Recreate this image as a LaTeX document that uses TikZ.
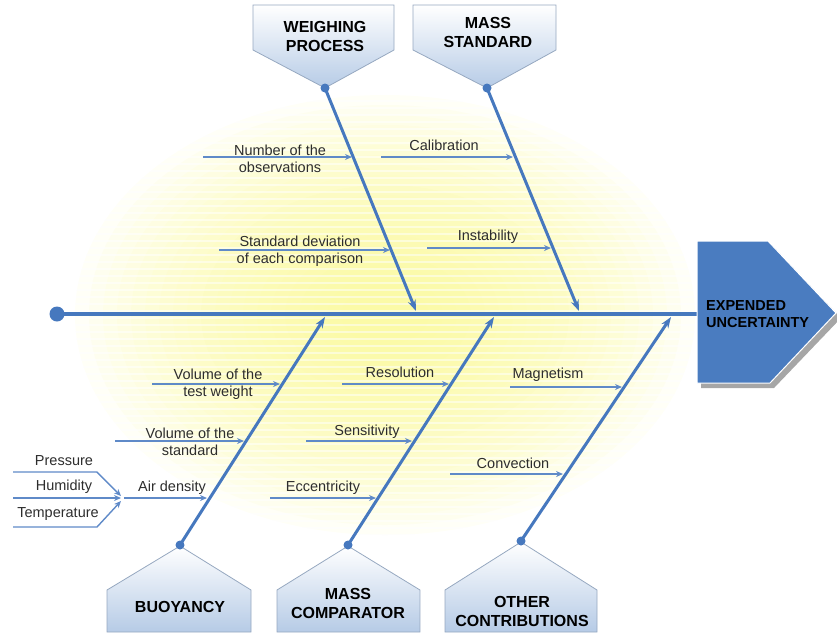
\documentclass[tikz,border=0pt]{standalone}
\usepackage{fontspec}
\setmainfont{Liberation Sans}
\usetikzlibrary{arrows.meta,calc}
\definecolor{bone}{RGB}{70,120,190}
\definecolor{subc}{RGB}{95,138,200}
\definecolor{boxb}{RGB}{182,203,230}
\definecolor{boxline}{RGB}{150,168,192}
\definecolor{headc}{RGB}{74,124,192}
\definecolor{glow}{RGB}{250,248,140}
\definecolor{txt}{RGB}{45,45,45}
\tikzset{
 bonearrow/.style={draw=bone, line width=3pt, -{Stealth[length=11pt,width=8pt]}},
 subarrow/.style={draw=subc, line width=1.4pt, -{Stealth[length=7pt,width=6pt]}},
 subline/.style={draw=subc, line width=1.4pt},
 lbl/.style={font=\fontsize{14.5}{17}\selectfont, text=txt, align=center, inner sep=0pt},
 boxlbl/.style={font=\fontsize{16}{19}\selectfont\bfseries, text=black, align=center, inner sep=0pt},
 catbox/.style={draw=boxline, line width=0.8pt, top color=white, bottom color=boxb},
}
\begin{document}
\begin{tikzpicture}[x=1pt,y=-1pt]
\useasboundingbox (0,0) rectangle (837,641);
% background glow
\foreach \i in {0,...,19}
  \fill[glow, opacity=0.07] (385,315) ellipse ({310-14*\i} and {220-10*\i});
\foreach \yy in {80,87,...,560} \draw[white, line width=2.6pt, opacity=0.5] (40,\yy) -- (740,\yy);

% spine
\coordinate (tail) at (57,314);
\coordinate (headL) at (697,314);
\draw[bone, line width=3.5pt] (tail) -- (headL);
\fill[bone] (tail) circle (7.5);

% head
\fill[black!35] (701,246) -- (772,246) -- (841,318) -- (774,388) -- (701,388) -- cycle;
\draw[white, line width=1pt, fill=headc] (697,241) -- (768,241) -- (836,313) -- (770,383) -- (697,383) -- cycle;
\node[font=\fontsize{14.5}{17}\selectfont\bfseries, align=left, anchor=west, inner sep=0pt] (head) at (706,314) {EXPENDED\\UNCERTAINTY};

% top category boxes
\draw[catbox] (253,5) -- (394,5) -- (394,50) -- (325,88) -- (253,50) -- cycle;
\node[boxlbl] (wp) at (325,36) {WEIGHING\\PROCESS};
\draw[catbox] (413,5) -- (556,5) -- (556,50) -- (487,88) -- (413,50) -- cycle;
\node[boxlbl] (ms) at (488,32) {MASS\\STANDARD};

% bottom category boxes
\draw[catbox] (180,546) -- (251,590) -- (251,632) -- (107,632) -- (107,590) -- cycle;
\node[boxlbl] (bu) at (180,607) {BUOYANCY};
\draw[catbox] (348,546) -- (420,590) -- (420,632) -- (277,632) -- (277,590) -- cycle;
\node[boxlbl] (mc) at (348,603) {MASS\\COMPARATOR};
\draw[catbox] (521,542) -- (597,590) -- (597,632) -- (445,632) -- (445,590) -- cycle;
\node[boxlbl] (oc) at (522,611) {OTHER\\CONTRIBUTIONS};

% bones
\coordinate (wpd) at (325,88);  \coordinate (wpe) at (416,311);
\coordinate (msd) at (487,88);  \coordinate (mse) at (579,311);
\coordinate (bud) at (180,545); \coordinate (bue) at (325,317);
\coordinate (mcd) at (348,545); \coordinate (mce) at (494,317);
\coordinate (ocd) at (521,541); \coordinate (oce) at (671,317);
\foreach \b in {wp,ms,bu,mc,oc}{
  \draw[bonearrow] (\b d) -- (\b e);
  \fill[bone] (\b d) circle (4.5);
}

% sub-causes: weighing process
\coordinate (a1) at (203,157); \coordinate (b1) at (352,157);
\draw[subarrow] (a1) -- (b1);
\node[lbl] (t1) at (280,158.5) {Number of the\\observations};
\coordinate (a3) at (219,250); \coordinate (b3) at (390,250);
\draw[subarrow] (a3) -- (b3);
\node[lbl] (t3) at (300,251) {Standard deviation\\of each comparison};
% mass standard
\coordinate (a2) at (381,157); \coordinate (b2) at (513,157);
\draw[subarrow] (a2) -- (b2);
\node[lbl] (t2) at (444,145) {Calibration};
\coordinate (a4) at (427,248); \coordinate (b4) at (551,248);
\draw[subarrow] (a4) -- (b4);
\node[lbl] (t4) at (488,237) {Instability};
% buoyancy
\coordinate (a5) at (152,384); \coordinate (b5) at (280,384);
\draw[subarrow] (a5) -- (b5);
\node[lbl] (t5) at (218,384.5) {Volume of the\\test weight};
\coordinate (a6) at (115,441); \coordinate (b6) at (244,441);
\draw[subarrow] (a6) -- (b6);
\node[lbl] (t6) at (190,441.5) {Volume of the\\standard};
\coordinate (a7) at (124,498); \coordinate (b7) at (207,498);
\draw[subarrow] (a7) -- (b7);
\node[lbl] (t7) at (172,488) {Air density};
% air density inputs
\coordinate (p0) at (13,472); \coordinate (p1) at (97,472); \coordinate (p2) at (121,496);
\draw[subline, -{Stealth[length=7pt,width=6pt]}] (p0) -- (p1) -- (p2);
\node[lbl] (tp) at (64,461) {Pressure};
\coordinate (h0) at (13,498); \coordinate (h1) at (121,498);
\draw[subarrow] (h0) -- (h1);
\node[lbl] (th) at (64,487) {Humidity};
\coordinate (q0) at (13,527); \coordinate (q1) at (97,527); \coordinate (q2) at (121,501);
\draw[subline, -{Stealth[length=7pt,width=6pt]}] (q0) -- (q1) -- (q2);
\node[lbl] (tt) at (58,514) {Temperature};
% mass comparator
\coordinate (a8) at (342,384); \coordinate (b8) at (449,384);
\draw[subarrow] (a8) -- (b8);
\node[lbl] (t8) at (400,372) {Resolution};
\coordinate (a9) at (306,441); \coordinate (b9) at (412,441);
\draw[subarrow] (a9) -- (b9);
\node[lbl] (t9) at (367,432) {Sensitivity};
\coordinate (a10) at (270,498); \coordinate (b10) at (376,498);
\draw[subarrow] (a10) -- (b10);
\node[lbl] (t10) at (323,488) {Eccentricity};
% other contributions
\coordinate (a11) at (510,387); \coordinate (b11) at (622,387);
\draw[subarrow] (a11) -- (b11);
\node[lbl] (t11) at (548,375) {Magnetism};
\coordinate (a12) at (450,474); \coordinate (b12) at (563,474);
\draw[subarrow] (a12) -- (b12);
\node[lbl] (t12) at (513,463) {Convection};
\end{tikzpicture}
\end{document}
